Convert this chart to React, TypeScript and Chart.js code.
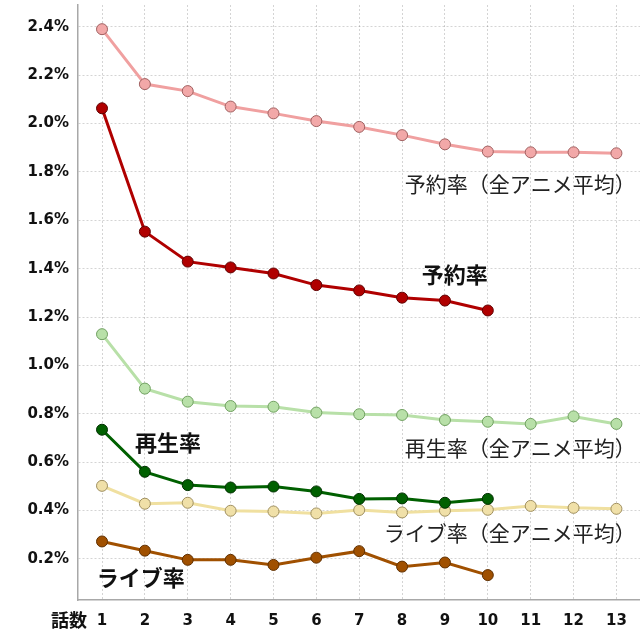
import React, { useEffect, useRef } from "react";
import { Chart, registerables } from "chart.js";

Chart.register(...registerables);

const episodes = [1, 2, 3, 4, 5, 6, 7, 8, 9, 10, 11, 12, 13];
const yTicks = [0.2, 0.4, 0.6, 0.8, 1.0, 1.2, 1.4, 1.6, 1.8, 2.0, 2.2, 2.4];

const reserveAvg = [2.39, 2.163, 2.134, 2.07, 2.042, 2.01, 1.986, 1.952, 1.914, 1.884, 1.881, 1.881, 1.877];
const reserve = [2.063, 1.553, 1.429, 1.405, 1.38, 1.332, 1.31, 1.28, 1.268, 1.227];
const playAvg = [1.129, 0.904, 0.85, 0.832, 0.829, 0.805, 0.798, 0.795, 0.774, 0.767, 0.758, 0.789, 0.758];
const play = [0.734, 0.56, 0.505, 0.495, 0.499, 0.479, 0.448, 0.45, 0.432, 0.448];
const liveAvg = [0.502, 0.428, 0.432, 0.399, 0.396, 0.388, 0.402, 0.392, 0.399, 0.403, 0.419, 0.411, 0.407];
const live = [0.272, 0.234, 0.196, 0.196, 0.175, 0.205, 0.232, 0.168, 0.185, 0.133];

const labels = [
  { text: "予約率（全アニメ平均）", x: 13.45, y: 1.749, bold: false, align: "right" },
  { text: "予約率", x: 8.46, y: 1.376, bold: true, align: "left" },
  { text: "再生率", x: 1.77, y: 0.68, bold: true, align: "left" },
  { text: "再生率（全アニメ平均）", x: 13.45, y: 0.66, bold: false, align: "right" },
  { text: "ライブ率（全アニメ平均）", x: 13.45, y: 0.308, bold: false, align: "right" },
  { text: "ライブ率", x: 0.88, y: 0.121, bold: true, align: "left" },
];

const toPts = (arr: number[]) => arr.map((v, i) => ({ x: episodes[i], y: v }));

function ds(label: string, data: number[], line: string, fill: string, border: string) {
  return {
    label,
    data: toPts(data),
    borderColor: line,
    borderWidth: 3,
    pointRadius: 5.5,
    pointBackgroundColor: fill,
    pointBorderColor: border,
    pointBorderWidth: 1,
    tension: 0,
  };
}

const annotPlugin = {
  id: "annot",
  afterDatasetsDraw(chart: any) {
    const { ctx, scales } = chart;
    const xs = scales.x;
    const ys = scales.y;
    ctx.save();
    ctx.textBaseline = "middle";
    for (const l of labels) {
      ctx.font = (l.bold ? "bold 22px" : "21px") + ' "Noto Sans CJK JP", sans-serif';
      ctx.fillStyle = l.bold ? "#111" : "#222";
      ctx.textAlign = l.align as CanvasTextAlign;
      ctx.fillText(l.text, xs.getPixelForValue(l.x), ys.getPixelForValue(l.y));
    }
    ctx.font = 'bold 18px "Noto Sans CJK JP", sans-serif';
    ctx.fillStyle = "#111";
    ctx.textAlign = "right";
    ctx.fillText("話数", xs.getPixelForValue(1) - 15, chart.chartArea.bottom + 20);
    ctx.restore();
  },
};

export default function App() {
  const ref = useRef<HTMLCanvasElement>(null);
  useEffect(() => {
    document.body.style.margin = "0";
    const chart = new Chart(ref.current!, {
      type: "line",
      data: {
        datasets: [
          ds("予約率（全アニメ平均）", reserveAvg, "#f0a0a0", "#f2a8a8", "#a06060"),
          ds("予約率", reserve, "#b00000", "#b00000", "#600000"),
          ds("再生率（全アニメ平均）", playAvg, "#b8e0a8", "#b8e0a8", "#70a060"),
          ds("再生率", play, "#006000", "#006000", "#003000"),
          ds("ライブ率（全アニメ平均）", liveAvg, "#f0e0a0", "#f0e0a8", "#a09060"),
          ds("ライブ率", live, "#a05000", "#a05000", "#603000"),
        ],
      },
      options: {
        animation: false,
        responsive: false,
        layout: { autoPadding: false, padding: { top: 5, right: 0, left: 0, bottom: 0 } },
        plugins: { legend: { display: false }, tooltip: { enabled: false } },
        scales: {
          x: {
            type: "linear",
            min: 0.44,
            max: 13.55,
            afterBuildTicks: (s: any) => {
              s.ticks = episodes.map((v) => ({ value: v }));
            },
            afterFit: (s: any) => {
              s.height = 40;
              s.paddingLeft = 0;
              s.paddingRight = 0;
            },
            grid: { color: "rgba(0,0,0,0.17)", lineWidth: 1, drawTicks: false },
            border: { color: "#a8a8a8", width: 1.5, dash: [2, 2] },
            ticks: {
              padding: 12,
              color: "#111",
              font: { family: '"DejaVu Sans", Verdana, sans-serif', size: 15, weight: "bold" },
              callback: (v: any) => String(v),
            },
          },
          y: {
            type: "linear",
            min: 0.03,
            max: 2.49,
            afterBuildTicks: (s: any) => {
              s.ticks = yTicks.map((v) => ({ value: v }));
            },
            afterFit: (s: any) => {
              s.width = 78;
              s.paddingTop = 0;
              s.paddingBottom = 0;
            },
            grid: { color: "rgba(0,0,0,0.17)", lineWidth: 1, drawTicks: false },
            border: { color: "#a8a8a8", width: 1.5, dash: [2, 2] },
            ticks: {
              padding: 9,
              color: "#111",
              font: { family: '"DejaVu Sans", Verdana, sans-serif', size: 15, weight: "bold" },
              callback: (v: any) => Number(v).toFixed(1) + "%",
            },
          },
        },
      } as any,
      plugins: [annotPlugin],
    });
    return () => chart.destroy();
  }, []);
  return (
    <div style={{ width: 640, height: 640, position: "absolute", left: 0, top: 0, background: "#fff" }}>
      <canvas ref={ref} width={640} height={640} style={{ width: 640, height: 640 }} />
    </div>
  );
}
